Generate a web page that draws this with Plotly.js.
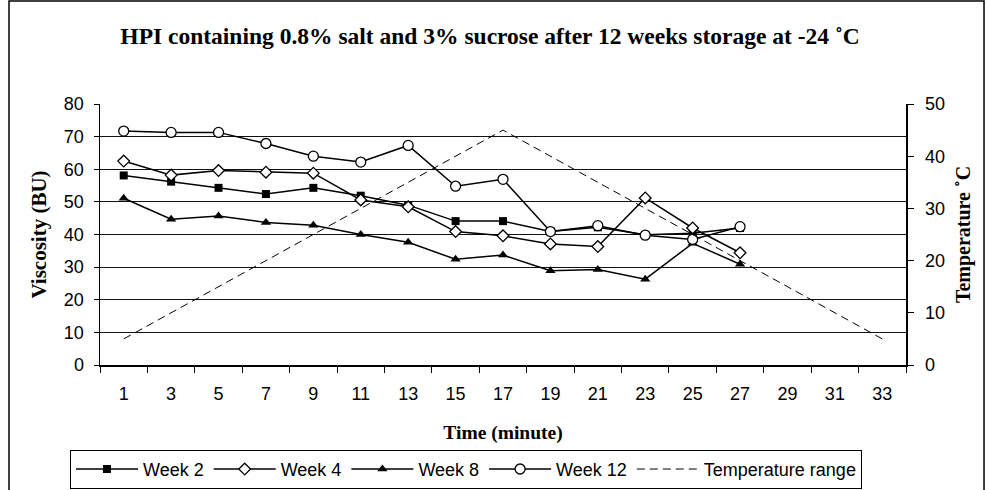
<!DOCTYPE html>
<html>
<head>
<meta charset="utf-8">
<script src="https://cdn.plot.ly/plotly-3.0.1.min.js"></script>
<style>
html,body{margin:0;padding:0;background:#fff;}
#chart{width:987px;height:490px;}
</style>
</head>
<body>
<div id="chart"></div>
<script>
// Categories on the time axis (minutes)
const timeCategories = ["1","3","5","7","9","11","13","15","17","19","21","23","25","27","29","31","33"];
// Times at which viscosity was measured
const measureTimes = ["1","3","5","7","9","11","13","15","17","19","21","23","25","27"];
// Viscosity (BU)
const week2  = [58.1, 56.2, 54.3, 52.4, 54.3, 51.9, 49.0, 44.1, 44.1, 40.9, 42.2, 39.9, 40.4, 42.0];
const week4  = [62.5, 58.2, 59.6, 59.1, 58.8, 50.6, 48.5, 40.9, 39.6, 37.1, 36.3, 51.2, 42.0, 34.4];
const week8  = [51.1, 44.7, 45.7, 43.7, 42.8, 40.0, 37.6, 32.4, 33.7, 28.9, 29.3, 26.3, 37.3, 30.9];
const week12 = [71.7, 71.3, 71.3, 67.9, 64.0, 62.2, 67.3, 54.8, 56.9, 40.9, 42.7, 39.8, 38.5, 42.4];
// Temperature range (°C)
const tempTimes = ["1","17","33"];
const tempValues = [5, 45, 5];

const sans = "Arial, 'Liberation Sans', sans-serif";
const serif = "'Times New Roman', 'Liberation Serif', serif";

const lineStyle = {color: "#000", width: 1.5};

const traces = [
  {x: measureTimes, y: week2, name: "Week 2", type: "scatter", mode: "lines+markers",
   line: lineStyle, marker: {symbol: "square", size: 8, color: "#000"}},
  {x: measureTimes, y: week4, name: "Week 4", type: "scatter", mode: "lines+markers",
   line: lineStyle, marker: {symbol: "diamond", size: 9, color: "#fff", line: {color: "#000", width: 1.3}}},
  {x: measureTimes, y: week8, name: "Week 8", type: "scatter", mode: "lines+markers",
   line: lineStyle, marker: {symbol: "triangle-up", size: 9, color: "#000"}},
  {x: measureTimes, y: week12, name: "Week 12", type: "scatter", mode: "lines+markers",
   line: lineStyle, marker: {symbol: "circle", size: 10, color: "#fff", line: {color: "#000", width: 1.3}}},
  {x: tempTimes, y: tempValues, name: "Temperature range", type: "scatter", mode: "lines",
   yaxis: "y2", line: {color: "#000", width: 1, dash: "8px,5px"}}
];

const layout = {
  width: 987, height: 490,
  margin: {l: 100, r: 81, t: 104, b: 125},
  paper_bgcolor: "#fff", plot_bgcolor: "#fff",
  showlegend: true,
  font: {family: sans, color: "#000", size: 18},
  title: {
    text: "<b>HPI containing 0.8% salt and 3% sucrose after 12 weeks storage at -24 ˚C</b>",
    font: {family: serif, size: 23.5, color: "#000"},
    xref: "container", yref: "container", x: 0.4965, y: 0.928, xanchor: "center", yanchor: "middle"
  },
  xaxis: {
    type: "category", categoryorder: "array", categoryarray: timeCategories,
    range: [-0.5, 16.5], tickson: "boundaries",
    ticks: "outside", ticklen: 6, tickcolor: "#000", tickwidth: 1,
    showline: true, linecolor: "#000", linewidth: 1.5,
    showgrid: false, zeroline: false,
    ticklabelstandoff: 12,
    tickfont: {family: sans, size: 18, color: "#000"},
    title: {text: "<b>Time (minute)</b>", font: {family: serif, size: 19.5, color: "#000"}, standoff: 22}
  },
  yaxis: {
    range: [0, 80], dtick: 10, tick0: 0,
    ticks: "outside", ticklen: 5, tickcolor: "#000",
    showline: true, linecolor: "#000", linewidth: 1.5,
    showgrid: true, gridcolor: "#111", gridwidth: 1, zeroline: false,
    ticklabelstandoff: 6,
    tickfont: {family: sans, size: 18, color: "#000"},
    title: {text: "<b>Viscosity (BU)</b>", font: {family: serif, size: 21, color: "#000"}, standoff: 11}
  },
  yaxis2: {
    overlaying: "y", side: "right", range: [0, 50], dtick: 10, tick0: 0,
    ticks: "outside", ticklen: 6, tickcolor: "#000",
    showline: true, linecolor: "#000", linewidth: 1.5,
    showgrid: false, zeroline: false,
    ticklabelstandoff: 8,
    tickfont: {family: sans, size: 18, color: "#000"},
    title: {text: "<b>Temperature ˚C</b>", font: {family: serif, size: 20, color: "#000"}, standoff: 12}
  },
  legend: {
    orientation: "h", xref: "container", yref: "container",
    x: 0.0709, y: 0.082, xanchor: "left", yanchor: "top",
    bordercolor: "#000", borderwidth: 1, bgcolor: "#fff",
    font: {family: sans, size: 18, color: "#000"},
    itemwidth: 62, tracegroupgap: 0
  },
  shapes: [{
    type: "rect", xref: "paper", yref: "paper",
    x0: -0.1129, x1: 1.0968, y0: -0.52, y1: 1.3946,
    line: {color: "#000", width: 1.5}, layer: "below"
  }]
};

Plotly.newPlot("chart", traces, layout, {displayModeBar: false, staticPlot: true});
</script>
</body>
</html>
